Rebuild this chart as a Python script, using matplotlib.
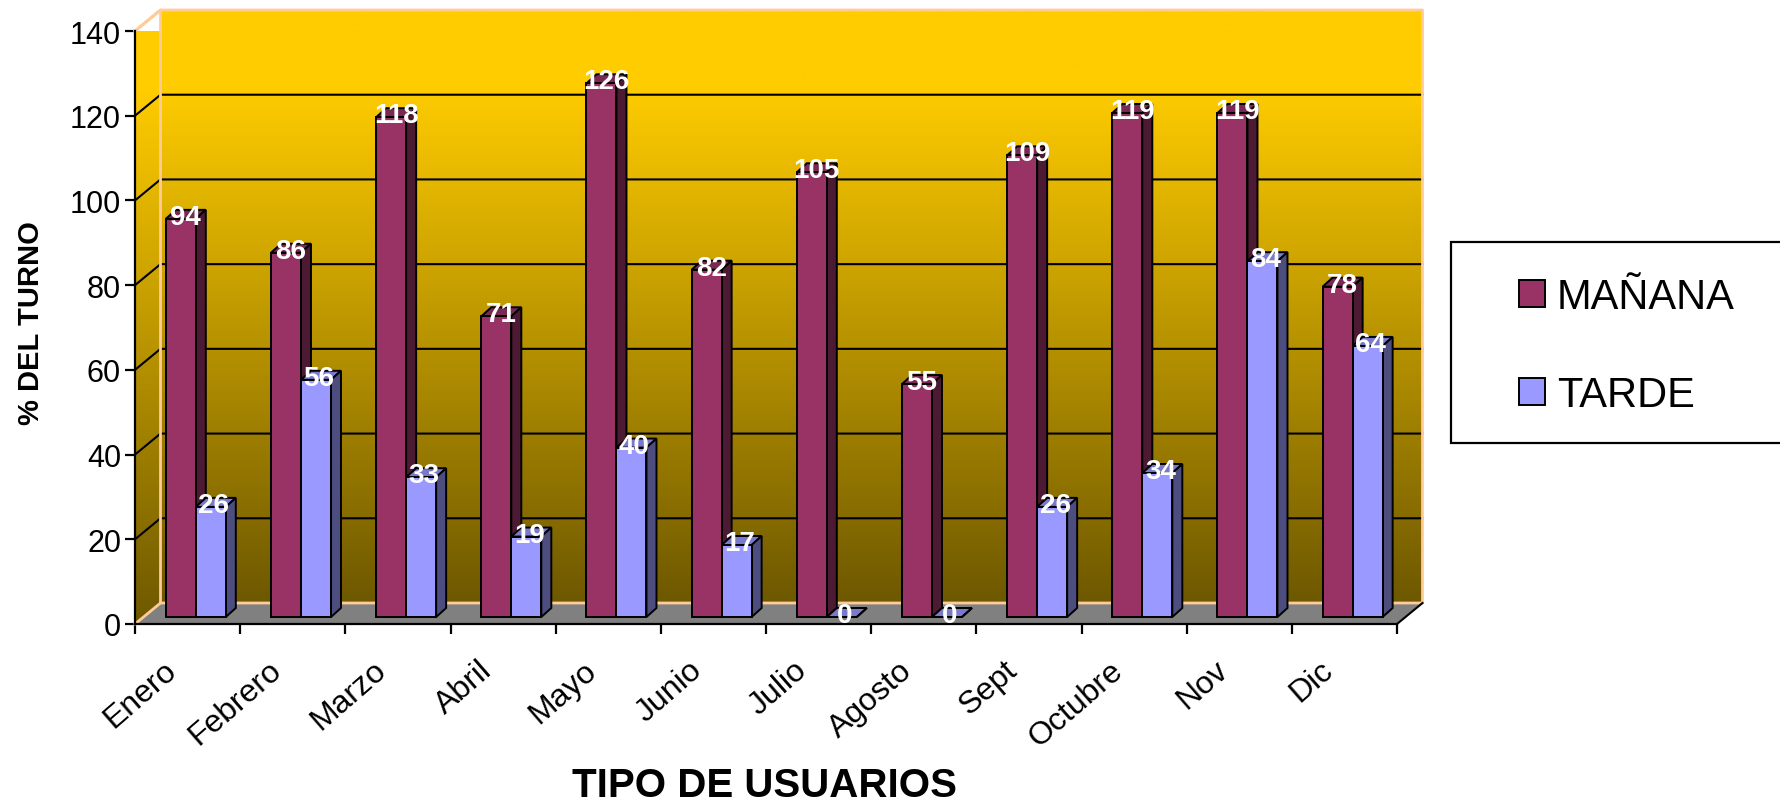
import numpy as np
import matplotlib
matplotlib.use("Agg")
import matplotlib.pyplot as plt
from matplotlib.patches import Polygon, Patch, Rectangle
from matplotlib.colors import LinearSegmentedColormap

months = ["Enero", "Febrero", "Marzo", "Abril", "Mayo", "Junio", "Julio",
          "Agosto", "Sept", "Octubre", "Nov", "Dic"]
manana = [94, 86, 118, 71, 126, 82, 105, 55, 109, 119, 119, 78]
tarde = [26, 56, 33, 19, 40, 17, 0, 0, 26, 34, 84, 64]
series_names = ["MAÑANA", "TARDE"]
y_ticks = [0, 20, 40, 60, 80, 100, 120, 140]

W, H = 1780, 803
plt.rcParams["font.family"] = ["Liberation Sans", "DejaVu Sans"]
fig = plt.figure(figsize=(W / 100, H / 100), dpi=100)

# Front plane of the axes in pixels
L, R, T, B = 135, 1397, 32, 625
ax = fig.add_axes([L / W, 1 - B / H, (R - L) / W, (B - T) / H])
ax.set_xlim(0, 12)
ax.set_ylim(0, 140)
ax.patch.set_visible(False)
px = 12 / (R - L)
py = 140 / (B - T)

# Depth of the oblique projection
DX, DY = 25.5 * px, 21 * py
x_max, y_max = 12, 140

# Gradient walls
cmap = LinearSegmentedColormap.from_list(
    "wall", [(0, "#FFCC00"), (0.13, "#FFCC00"), (1, "#6E5800")])
grad = np.linspace(0, 1, 512)[:, None]
back = ax.imshow(grad, cmap=cmap, extent=(DX, x_max + DX, DY, y_max + DY),
                 aspect="auto", zorder=1, clip_on=False)
side_poly = Polygon([(0, 0), (DX, DY), (DX, y_max + DY), (0, y_max)],
                    closed=True, transform=ax.transData, fc="none", ec="none")
ax.add_patch(side_poly)
side = ax.imshow(grad, cmap=cmap, extent=(0, DX, 0, y_max + DY),
                 aspect="auto", zorder=1)
side.set_clip_path(side_poly)
ax.set_xlim(0, 12)
ax.set_ylim(0, 140)

# Floor
ax.add_patch(Polygon([(0, 0), (DX, DY), (x_max + DX, DY), (x_max, 0)],
                     closed=True, fc="#808080", ec="none", zorder=1.5,
                     clip_on=False))

# Gridlines
for v in y_ticks[1:-1]:
    ax.plot([0, DX, x_max + DX], [v, v + DY, v + DY], color="black", lw=1.5,
            zorder=2, clip_on=False, solid_joinstyle="miter")

# Wall borders
peach = "#FFCC99"
ax.plot([0, DX, x_max + DX, x_max + DX, DX, DX, 0],
        [y_max, y_max + DY, y_max + DY, DY, DY, y_max + DY, y_max],
        color=peach, lw=2, zorder=2.2, clip_on=False)
ax.plot([DX, 0], [DY, 0], color=peach, lw=2, zorder=2.2, clip_on=False)
ax.plot([x_max + DX, x_max], [DY, 0], color="black", lw=1.5, zorder=2.2,
        clip_on=False)

# Bars
BASE = 7 * py
BAR_W = 30 * px
OFF = 0.293
BX, BY = 10 * px, 9 * py
styles = [("#993366", "#4D1A33", "#7A2952"), ("#9999FF", "#4D4D80", "#7A7ACC")]
edge = dict(edgecolor="black", linewidth=1.4)

for i in range(len(months)):
    for s, vals in enumerate((manana, tarde)):
        v = vals[i]
        x0 = i + OFF + s * BAR_W
        x1 = x0 + BAR_W
        top = BASE + v
        z = 3 + i + s * 0.5
        front, dark, mid = styles[s]
        ax.add_patch(Polygon([(x0, top), (x0 + BX, top + BY), (x1 + BX, top + BY), (x1, top)],
                             closed=True, fc=mid, zorder=z, clip_on=False, **edge))
        ax.add_patch(Polygon([(x1, BASE), (x1 + BX, BASE + BY), (x1 + BX, top + BY), (x1, top)],
                             closed=True, fc=dark, zorder=z, clip_on=False, **edge))
        ax.bar(x0, v, width=BAR_W, bottom=BASE, align="edge", color=front,
               zorder=z + 0.1, clip_on=False, **edge)
        ax.text((x0 + x1) / 2 + (5 - 2 * s) * px, top + 2 * py, str(v), color="white",
                fontsize=20, fontweight="bold", ha="center", va="center",
                zorder=40, clip_on=False)

# Axes
for sp in ("top", "right"):
    ax.spines[sp].set_visible(False)
for sp in ("left", "bottom"):
    ax.spines[sp].set_linewidth(1.6)
    ax.spines[sp].set_zorder(30)
ax.set_yticks(y_ticks)
ax.tick_params(axis="y", length=7, width=1.6, labelsize=22, pad=3)
ax.set_xticks(range(13))
ax.set_xticklabels([])
ax.tick_params(axis="x", length=7, width=1.6)

for i, m in enumerate(months):
    ax.annotate(m, xy=(i + 0.5, 0), xycoords="data", xytext=(-18, -22),
                textcoords="offset points", rotation=41, ha="right", va="top",
                rotation_mode="anchor", fontsize=23, annotation_clip=False)

fig.text(765 / W, 1 - 786 / H, "TIPO DE USUARIOS", fontsize=29, fontweight="bold",
         ha="center", va="center")
fig.text(31 / W, 1 - 323 / H, "% DEL TURNO", fontsize=21, fontweight="bold",
         rotation=90, ha="center", va="center")

# Legend
fig.add_artist(Rectangle((1451 / W, 1 - 444 / H), (W + 20 - 1451) / W, 201 / H,
                         transform=fig.transFigure, fc="white", ec="black", lw=1.6))
fs = 30
fs_px = fs * 100 / 72
handles = [Patch(fc=styles[k][0], ec="black", lw=1.4, label=series_names[k]) for k in range(2)]
fig.legend(handles=handles, loc="center left", bbox_to_anchor=(1519 / W, 1 - 347 / H),
           frameon=False, fontsize=fs, borderpad=0, borderaxespad=0,
           handlelength=26 / fs_px, handleheight=26 / fs_px,
           handletextpad=12 / fs_px, labelspacing=1.4)

fig.savefig("out.png", dpi=100)
